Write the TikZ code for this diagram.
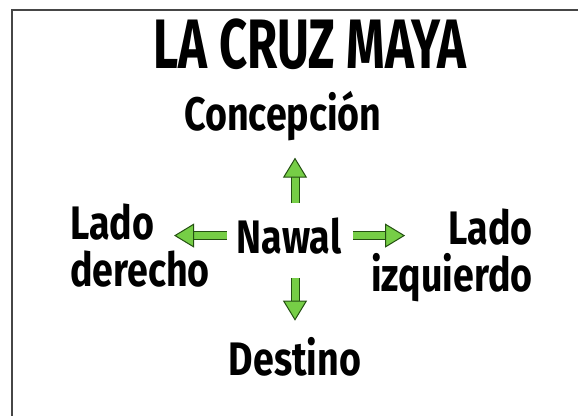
\documentclass[tikz,border=0pt]{standalone}
\usepackage{fontspec}
\setmainfont{Fira Sans}[FakeStretch=0.8]
\newfontfamily\titlefont{Fira Sans}[FakeStretch=0.7]
\usetikzlibrary{arrows.meta}

\definecolor{verde}{RGB}{118,206,70}
\definecolor{verdeosc}{RGB}{36,80,18}
\definecolor{marcogris}{RGB}{70,70,70}

\tikzset{
  titulo/.style={font=\titlefont\fontsize{70}{74}\selectfont\bfseries, inner sep=0pt},
  etiqueta/.style={font=\fontsize{47}{47}\selectfont\bfseries, inner sep=0pt},
  flecha/.style={draw=verdeosc, line width=1pt, double=verde, double distance=7pt,
    -{Triangle[length=20pt, width=24pt, fill=verde, color=verdeosc, line width=1pt]}}
}

\begin{document}
\begin{tikzpicture}[x=1pt, y=-1pt]
\useasboundingbox (0,0) rectangle (578,415);

% Frame (only top and left edges show)
\draw[marcogris, line width=2pt] (12,10) rectangle (640,470);

% Title and labels
\node[titulo, anchor=base] (titulo) at (310,68) {LA CRUZ MAYA};
\node[etiqueta, anchor=base] (concepcion) at (283,130) {Concepción};
\node[etiqueta, anchor=base] (nawal) at (289,253) {Nawal};
\node[etiqueta, anchor=base] (destino) at (295,375) {Destino};
\node[etiqueta, anchor=north west, align=left] (derecho) at (70,204) {Lado\\derecho};
\node[etiqueta, anchor=north east, align=right] (izquierdo) at (533,209) {Lado\\izquierdo};

% Arrows out of Nawal
\draw[flecha, shorten <=14pt, shorten >=17pt] (nawal.north -| destino) -- (concepcion.south -| destino);
\draw[flecha, shorten <=24pt, shorten >=16pt] (nawal.south -| destino) -- (destino.north);
\draw[flecha, shorten <=10pt, shorten >=34pt] (nawal.west) -- (nawal.west -| derecho.center);
\draw[flecha, shorten <=12pt, shorten >=47pt] (nawal.east) -- (nawal.east -| izquierdo.center);
\end{tikzpicture}
\end{document}
